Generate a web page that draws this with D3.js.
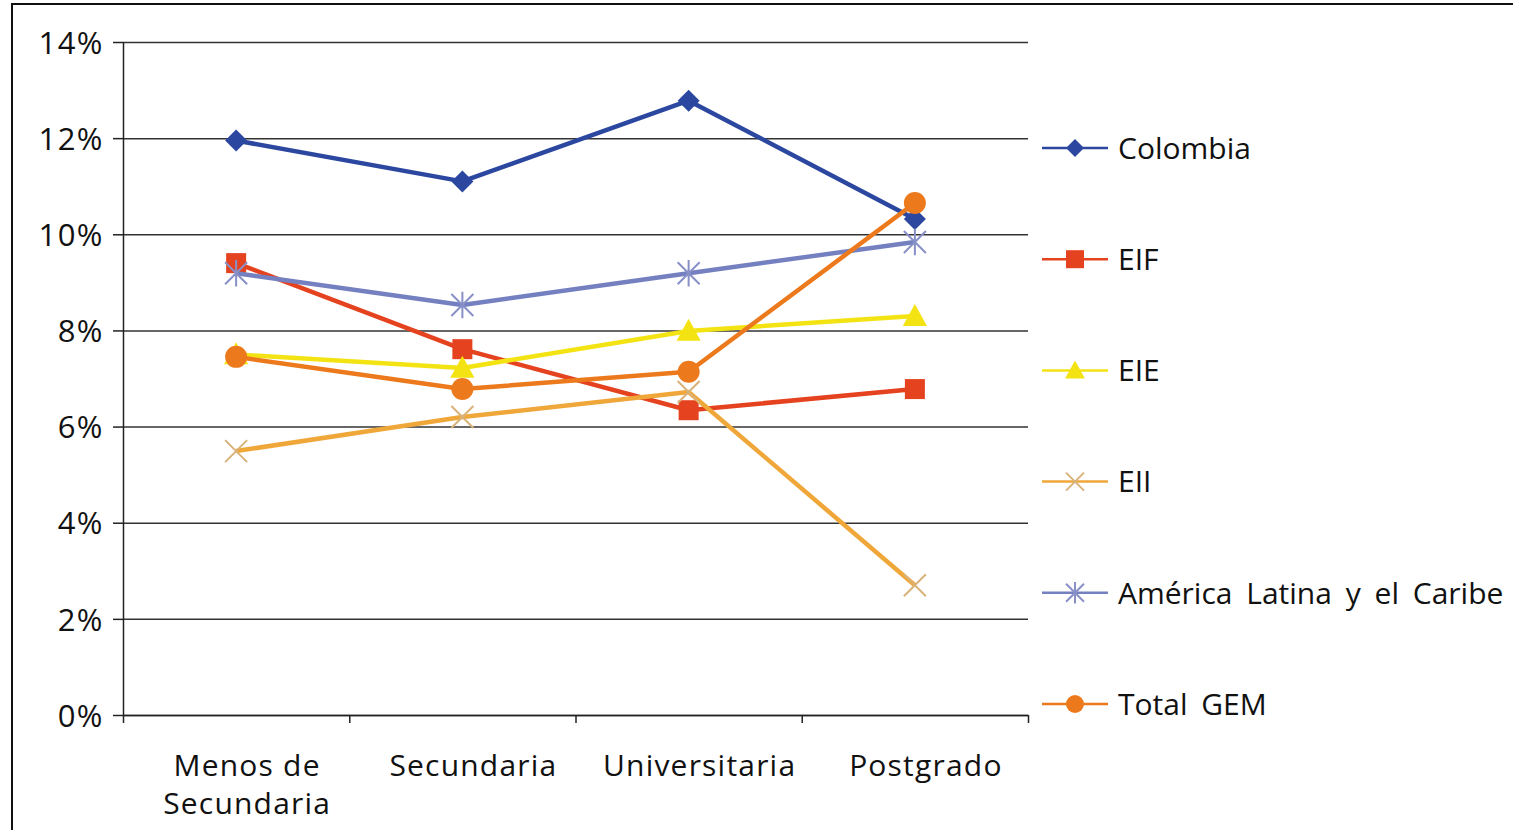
<!DOCTYPE html>
<html>
<head>
<meta charset="utf-8">
<script src="https://cdn.jsdelivr.net/npm/d3@7"></script>
<style>
  body { margin: 0; background: #fff; }
  svg text { font-family: "Open Sans", "Noto Sans", sans-serif; fill: #111; }
</style>
</head>
<body>
<div class="canvas"></div>
<script>
// what to show
var categories = [['Menos de', 'Secundaria'], ['Secundaria'], ['Universitaria'], ['Postgrado']],
    series_names = ['Colombia', 'EIF', 'EIE', 'EII', 'América Latina y el Caribe', 'Total GEM'],
    colombia = [11.95, 11.1, 12.78, 10.32],
    eif = [9.4, 7.61, 6.34, 6.78],
    eie = [7.5, 7.22, 7.99, 8.3],
    eii = [5.49, 6.2, 6.72, 2.7],
    alc = [9.19, 8.53, 9.19, 9.84],
    gem = [7.45, 6.78, 7.14, 10.65],
    y_ticks = [0, 2, 4, 6, 8, 10, 12, 14];

// what it looks like
var styles = [
    { color: '#2c47a0', marker: 'diamond', mcolor: '#2c47a0' },
    { color: '#e5421f', marker: 'square', mcolor: '#e5421f' },
    { color: '#f4e312', marker: 'triangle', mcolor: '#f4e312' },
    { color: '#f0a73a', marker: 'cross', mcolor: '#d9b27a' },
    { color: '#7480c0', marker: 'star', mcolor: '#8890c8' },
    { color: '#ec7a1c', marker: 'circle', mcolor: '#ec7a1c' }
];
var values = [colombia, eif, eie, eii, alc, gem];

var width = 1513,
    height = 830,
    plot = { left: 123, right: 1028, top: 42, bottom: 715 };

var svg = d3.select('.canvas').append('svg')
    .attr('width', width)
    .attr('height', height);

// frame
svg.append('rect')
    .attr('x', 12).attr('y', 4)
    .attr('width', width + 20).attr('height', height + 20)
    .attr('fill', 'none').attr('stroke', '#111').attr('stroke-width', 2);

var x = d3.scalePoint()
    .domain(d3.range(categories.length))
    .range([plot.left, plot.right])
    .padding(0.5);

var xb = d3.scaleLinear()
    .domain([0, categories.length])
    .range([plot.left, plot.right]);

var y = d3.scaleLinear()
    .domain([0, 14])
    .range([plot.bottom, plot.top]);

// gridlines
var grid = svg.append('g')
    .attr('transform', 'translate(' + plot.left + ',0)')
    .call(d3.axisLeft(y).tickValues(y_ticks).tickSize(-(plot.right - plot.left)).tickFormat(''));
grid.select('.domain').remove();
grid.selectAll('line').attr('stroke', '#333').attr('stroke-width', 1.5);

// y axis
var yaxis = svg.append('g')
    .attr('transform', 'translate(' + plot.left + ',0)')
    .call(d3.axisLeft(y).tickValues(y_ticks).tickSize(10).tickSizeOuter(0)
        .tickFormat(function (d) { return d + '%'; }));
yaxis.select('.domain').attr('stroke', '#222').attr('stroke-width', 1.5);
yaxis.selectAll('line').attr('stroke', '#222').attr('stroke-width', 1.5);
yaxis.selectAll('text')
    .attr('x', -19)
    .attr('dy', '0.36em')
    .style('font-size', '31px')
    .style('letter-spacing', '1.5px');

// x axis
var xaxis = svg.append('g')
    .attr('transform', 'translate(0,' + plot.bottom + ')')
    .call(d3.axisBottom(xb).tickValues(d3.range(categories.length + 1)).tickSize(8)
        .tickSizeOuter(0).tickFormat(''));
xaxis.select('.domain').attr('stroke', '#222').attr('stroke-width', 1.5);
xaxis.selectAll('line').attr('stroke', '#222').attr('stroke-width', 1.5);

svg.append('g').selectAll('text')
    .data(categories)
    .enter()
    .append('text')
    .attr('text-anchor', 'middle')
    .attr('transform', function (d, i) {
        return 'translate(' + (x(i) + 11) + ',' + 776 + ')';
    })
    .style('font-size', '30px')
    .style('letter-spacing', '1.2px')
    .selectAll('tspan')
    .data(function (d) { return d; })
    .enter()
    .append('tspan')
    .attr('x', 0)
    .attr('dy', function (d, i) { return i ? 38 : 0; })
    .text(function (d) { return d; });

// markers
function marker(g, kind, color, s) {
    if (kind === 'diamond') {
        g.append('path').attr('d', 'M0,' + (-s) + 'L' + s + ',0L0,' + s + 'L' + (-s) + ',0Z')
            .attr('fill', color);
    } else if (kind === 'square') {
        g.append('rect').attr('x', -s).attr('y', -s).attr('width', 2 * s).attr('height', 2 * s)
            .attr('fill', color);
    } else if (kind === 'triangle') {
        g.append('path').attr('d', 'M0,' + (-s * 1.1) + 'L' + (s * 1.1) + ',' + (s * 0.9) + 'L' + (-s * 1.1) + ',' + (s * 0.9) + 'Z')
            .attr('fill', color);
    } else if (kind === 'circle') {
        g.append('circle').attr('r', s).attr('fill', color);
    } else if (kind === 'cross') {
        g.append('path').attr('d', 'M' + (-s) + ',' + (-s) + 'L' + s + ',' + s + 'M' + s + ',' + (-s) + 'L' + (-s) + ',' + s)
            .attr('stroke', color).attr('stroke-width', 2).attr('fill', 'none');
    } else if (kind === 'star') {
        g.append('path').attr('d', 'M' + (-s) + ',' + (-s) + 'L' + s + ',' + s + 'M' + s + ',' + (-s) + 'L' + (-s) + ',' + s + 'M0,' + (-s * 1.2) + 'L0,' + (s * 1.2))
            .attr('stroke', color).attr('stroke-width', 2).attr('fill', 'none');
    }
}

var line = d3.line()
    .x(function (d, i) { return x(i); })
    .y(function (d) { return y(d); });

var big = { diamond: 11, square: 10, triangle: 11, circle: 11, cross: 11, star: 11 };
var small = { diamond: 9, square: 9, triangle: 9, circle: 9, cross: 9, star: 9 };

values.forEach(function (vals, k) {
    var st = styles[k];
    var g = svg.append('g');
    g.append('path')
        .datum(vals)
        .attr('d', line)
        .attr('fill', 'none')
        .attr('stroke', st.color)
        .attr('stroke-width', 4.5)
        .attr('stroke-linejoin', 'round');
    g.selectAll('g.m')
        .data(vals)
        .enter()
        .append('g')
        .attr('class', 'm')
        .attr('transform', function (d, i) {
            return 'translate(' + x(i) + ',' + y(d) + ')';
        })
        .each(function () { marker(d3.select(this), st.marker, st.mcolor, big[st.marker]); });
});

// legend
var legend = svg.append('g')
    .selectAll('g')
    .data(series_names)
    .enter()
    .append('g')
    .attr('transform', function (d, i) {
        return 'translate(1042,' + (148 + i * 111.2) + ')';
    });

legend.append('line')
    .attr('x1', 0).attr('x2', 66)
    .attr('stroke', function (d, i) { return styles[i].color; })
    .attr('stroke-width', 2.5);

legend.each(function (d, i) {
    var m = d3.select(this).append('g').attr('transform', 'translate(33,0)');
    marker(m, styles[i].marker, styles[i].mcolor, small[styles[i].marker]);
});

legend.append('text')
    .attr('x', 76)
    .attr('dy', '0.36em')
    .style('font-size', '30px')
    .style('word-spacing', '6px')
    .text(function (d) { return d; });
</script>
</body>
</html>
